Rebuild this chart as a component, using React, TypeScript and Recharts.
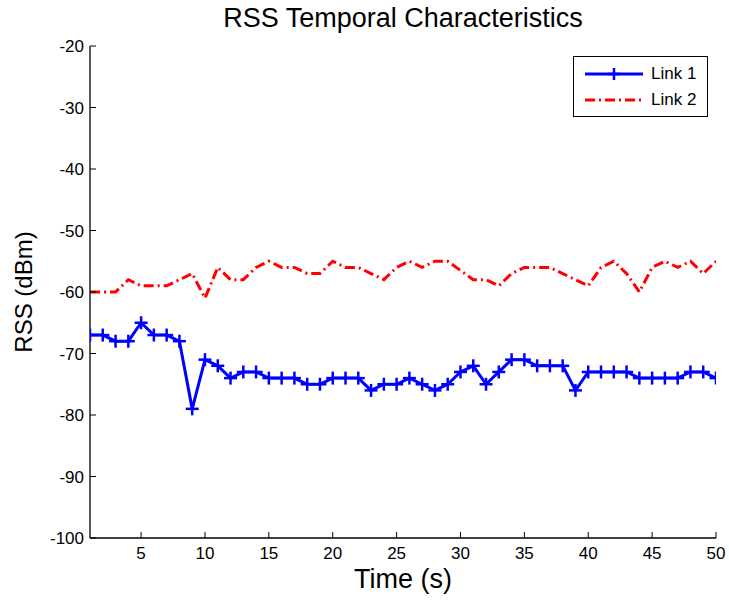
import React from 'react';
import { LineChart, Line, XAxis, YAxis, Legend } from 'recharts';

const timeSec = [1,2,3,4,5,6,7,8,9,10,11,12,13,14,15,16,17,18,19,20,21,22,23,24,25,26,27,28,29,30,31,32,33,34,35,36,37,38,39,40,41,42,43,44,45,46,47,48,49,50];
const link1 = [-67,-67,-68,-68,-65,-67,-67,-68,-79,-71,-72,-74,-73,-73,-74,-74,-74,-75,-75,-74,-74,-74,-76,-75,-75,-74,-75,-76,-75,-73,-72,-75,-73,-71,-71,-72,-72,-72,-76,-73,-73,-73,-73,-74,-74,-74,-74,-73,-73,-74];
const link2 = [-60,-60,-60,-58,-59,-59,-59,-58,-57,-61,-56,-58,-58,-56,-55,-56,-56,-57,-57,-55,-56,-56,-57,-58,-56,-55,-56,-55,-55,-56.5,-58,-58,-59,-57,-56,-56,-56,-57,-58,-59,-56,-55,-57,-60,-56,-55,-56,-55,-57,-55];
const xTicks = [5,10,15,20,25,30,35,40,45,50];
const yTicks = [-100,-90,-80,-70,-60,-50,-40,-30,-20];
const seriesNames = ['Link 1', 'Link 2'];
const titleText = 'RSS Temporal Characteristics';
const xLabel = 'Time (s)';
const yLabel = 'RSS (dBm)';

const data = timeSec.map((t, i) => ({ t, l1: link1[i], l2: link2[i] }));

const FONT = '"Liberation Sans", Arial, Helvetica, sans-serif';
const BLUE = '#0000ff';
const RED = '#ff0000';
const DASH = '10 4 2 4';

const PlusDot = (props: any) => {
  const { cx, cy } = props;
  if (cx == null || cy == null) return null;
  const s = 6.5;
  return (
    <g>
      <line x1={cx - s} x2={cx + s} y1={cy} y2={cy} stroke={BLUE} strokeWidth={2.5} />
      <line x1={cx} x2={cx} y1={cy - s} y2={cy + s} stroke={BLUE} strokeWidth={2.5} />
    </g>
  );
};

const LegendBox = () => (
  <div style={{ width: 135, height: 61, border: '1px solid #000', background: '#fff', boxSizing: 'border-box', fontFamily: FONT, fontSize: 17, color: '#000' }}>
    <div style={{ display: 'flex', alignItems: 'center', height: 26, marginTop: 4 }}>
      <svg width={77} height={20} style={{ display: 'block' }}>
        <line x1={11} x2={69} y1={10} y2={10} stroke={BLUE} strokeWidth={3} />
        <line x1={34} x2={46} y1={10} y2={10} stroke={BLUE} strokeWidth={2.5} />
        <line x1={40} x2={40} y1={4} y2={16} stroke={BLUE} strokeWidth={2.5} />
      </svg>
      <span>{seriesNames[0]}</span>
    </div>
    <div style={{ display: 'flex', alignItems: 'center', height: 26 }}>
      <svg width={77} height={20} style={{ display: 'block' }}>
        <line x1={11} x2={69} y1={10} y2={10} stroke={RED} strokeWidth={3} strokeDasharray={DASH} />
      </svg>
      <span>{seriesNames[1]}</span>
    </div>
  </div>
);

export default function App() {
  const tickStyle = { fill: '#000', fontSize: 17, fontFamily: FONT };
  return (
    <div style={{ position: 'absolute', left: 0, top: 0, width: 729, height: 601, background: '#fff' }}>
      <div style={{ position: 'absolute', left: 0, top: 3, width: 806, textAlign: 'center', fontFamily: FONT, fontSize: 27, color: '#000', whiteSpace: 'nowrap', lineHeight: '30px' }}>
        {titleText}
      </div>
      <LineChart width={729} height={601} data={data} margin={{ top: 46, right: 13, bottom: 0, left: 0 }}>
        <XAxis
          xAxisId="b"
          dataKey="t"
          type="number"
          domain={[1, 50]}
          ticks={xTicks}
          allowDataOverflow
          height={63}
          axisLine={{ stroke: '#000', strokeWidth: 1.3 }}
          tickLine={{ stroke: '#000' }}
          tickSize={-6}
          tickMargin={15}
          tick={tickStyle}
          label={{
            content: (p: any) => (
              <text x={p.viewBox.x + p.viewBox.width / 2} y={p.viewBox.y + 50} textAnchor="middle" fontFamily={FONT} fontSize={27} fill="#000">{xLabel}</text>
            ),
          }}
        />
        <XAxis
          xAxisId="top"
          orientation="top"
          dataKey="t"
          type="number"
          domain={[1, 50]}
          ticks={xTicks}
          allowDataOverflow
          height={0}
          axisLine={{ stroke: '#000', strokeWidth: 1.3 }}
          tickLine={{ stroke: '#000' }}
          tickSize={-6}
          tick={() => <g />}
        />
        <YAxis
          yAxisId="l"
          type="number"
          domain={[-100, -20]}
          ticks={yTicks}
          allowDataOverflow
          width={90}
          axisLine={{ stroke: '#000', strokeWidth: 1.3 }}
          tickLine={{ stroke: '#000' }}
          tickSize={-6}
          tickMargin={12}
          tick={tickStyle}
          label={{
            content: (p: any) => {
              const cx = 32;
              const cy = p.viewBox.y + p.viewBox.height / 2;
              return (
                <text x={cx} y={cy} transform={`rotate(-90 ${cx} ${cy})`} textAnchor="middle" fontFamily={FONT} fontSize={24} fill="#000">{yLabel}</text>
              );
            },
          }}
        />
        <YAxis
          yAxisId="r"
          orientation="right"
          type="number"
          domain={[-100, -20]}
          ticks={yTicks}
          allowDataOverflow
          width={0}
          axisLine={{ stroke: '#000', strokeWidth: 1.3 }}
          tickLine={{ stroke: '#000' }}
          tickSize={-6}
          tick={() => <g />}
        />
        <Legend
          layout="horizontal"
          verticalAlign="middle"
          align="center"
          wrapperStyle={{ position: 'absolute', left: 573, top: 56, width: 'auto', height: 'auto' }}
          content={() => <LegendBox />}
        />
        <Line
          xAxisId="b"
          yAxisId="l"
          type="linear"
          dataKey="l2"
          name={seriesNames[1]}
          stroke={RED}
          strokeWidth={3}
          strokeDasharray={DASH}
          dot={false}
          activeDot={false}
          isAnimationActive={false}
        />
        <Line
          xAxisId="b"
          yAxisId="l"
          type="linear"
          dataKey="l1"
          name={seriesNames[0]}
          stroke={BLUE}
          strokeWidth={3}
          dot={<PlusDot />}
          activeDot={false}
          isAnimationActive={false}
        />
      </LineChart>
    </div>
  );
}
